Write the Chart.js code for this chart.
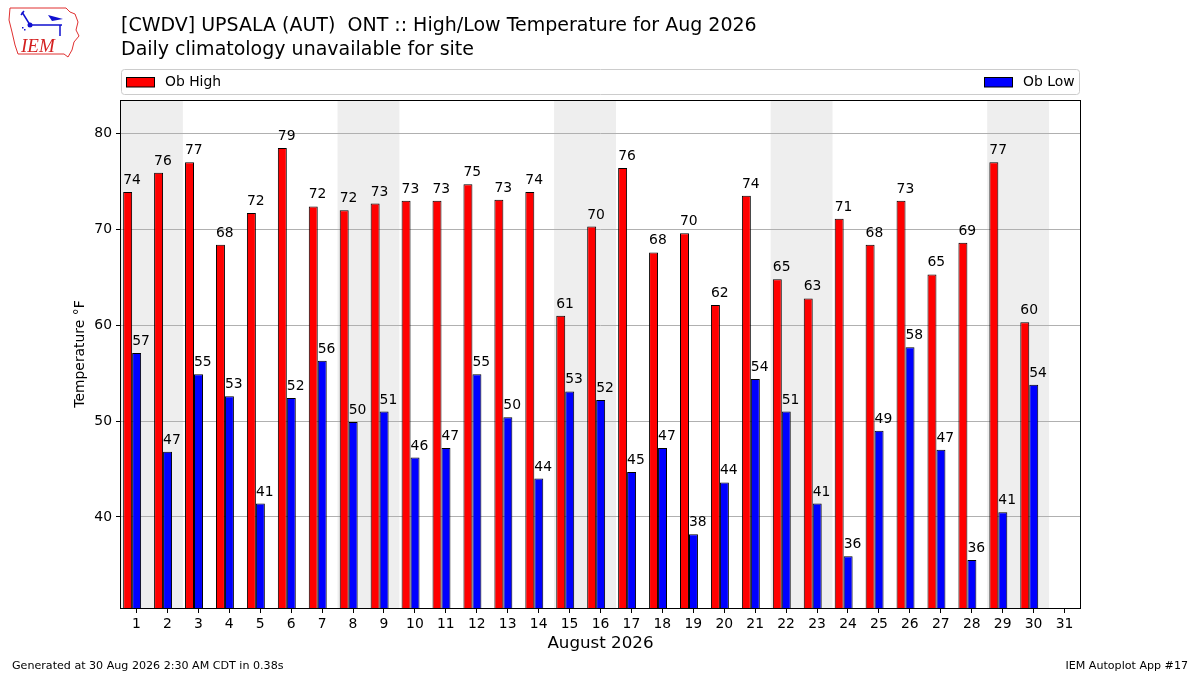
<!DOCTYPE html>
<html>
<head>
<meta charset="utf-8">
<script src="https://cdn.jsdelivr.net/npm/chart.js@4.4.1/dist/chart.umd.min.js"></script>
<style>
  html, body { margin: 0; padding: 0; background: #fff; }
  #wrap { width: 1200px; height: 675px; }
</style>
</head>
<body>
<div id="wrap"><canvas id="myChart" width="1200" height="675"></canvas></div>
<script>
// values, August 2026, day 31 has no data yet
const days = [1,2,3,4,5,6,7,8,9,10,11,12,13,14,15,16,17,18,19,20,21,22,23,24,25,26,27,28,29,30,31]
const obHigh = [73.9,75.9,77.0,68.4,71.7,78.5,72.4,72.0,72.7,73.0,73.0,74.7,73.1,73.9,61.0,70.3,
    76.4,67.6,69.6,62.1,73.5,64.8,62.8,71.1,68.4,73.0,65.3,68.6,77.0,60.3,null]
const obLow = [57.1,46.8,54.9,52.6,41.4,52.4,56.3,49.9,51.0,46.2,47.2,54.9,50.4,44.0,53.1,52.2,
    44.7,47.2,38.2,43.6,54.4,51.0,41.4,35.9,49.0,57.7,47.0,35.5,40.5,53.8,null]
const yTicks = [40,50,60,70,80]

const titleLine1 = '[CWDV] UPSALA (AUT)  ONT :: High/Low Temperature for Aug 2026'
const titleLine2 = 'Daily climatology unavailable for site'
const footLeft = 'Generated at 30 Aug 2026 2:30 AM CDT in 0.38s'
const footRight = 'IEM Autoplot App #17'

const FONT = "'DejaVu Sans', sans-serif"
const pairShift = -0.14 // high/low pair sits a bit left of the day tick

const validHigh = obHigh.filter(v => v !== null)
const validLow = obLow.filter(v => v !== null)
const yMin = Math.min(...validLow) - 5
const yMax = Math.max(...validHigh) + 5

const ctx = document.getElementById('myChart')

const iemPlugin = {
    id: 'iem',
    beforeDraw(chart) {
        const c = chart.ctx
        const area = chart.chartArea
        const x = chart.scales.x
        c.save()
        c.fillStyle = '#fff'
        c.fillRect(0, 0, chart.width, chart.height)
        // weekend shading
        c.beginPath()
        c.rect(area.left, area.top, area.right - area.left, area.bottom - area.top)
        c.clip()
        c.fillStyle = '#eeeeee'
        days.forEach(d => {
            if (new Date(2026, 7, d).getDay() === 6) {
                const x0 = x.getPixelForValue(d - 0.5)
                const x1 = x.getPixelForValue(d + 1.5)
                c.fillRect(x0, area.top, x1 - x0, area.bottom - area.top)
            }
        })
        c.restore()
    },
    afterDatasetsDraw(chart) {
        const c = chart.ctx
        const area = chart.chartArea
        c.save()
        c.font = '13.9px ' + FONT
        c.fillStyle = '#000'
        c.textAlign = 'left'
        c.textBaseline = 'alphabetic'
        chart.data.datasets.forEach((ds, i) => {
            chart.getDatasetMeta(i).data.forEach((bar, j) => {
                const v = ds.data[j].y
                if (v === null) return
                c.fillText(String(Math.round(v)), bar.x - bar.width / 2, bar.y - 8)
            })
        })
        // frame
        c.strokeStyle = '#000'
        c.lineWidth = 1
        c.strokeRect(Math.round(area.left) - 0.5, Math.round(area.top) + 0.5,
            Math.round(area.right - area.left) + 1, Math.round(area.bottom - area.top))
        c.restore()
    },
    afterDraw(chart) {
        const c = chart.ctx
        const area = chart.chartArea
        c.save()
        c.fillStyle = '#000'
        c.textBaseline = 'alphabetic'
        c.textAlign = 'left'
        c.font = '19px ' + FONT
        c.fillText(titleLine1, 121, 31)
        c.fillText(titleLine2, 121, 55)

        // legend box
        c.beginPath()
        c.roundRect(121.5, 69.5, 958, 25, 3)
        c.fillStyle = '#fff'
        c.fill()
        c.strokeStyle = '#cccccc'
        c.stroke()
        c.font = '13.9px ' + FONT
        c.textBaseline = 'middle'
        c.fillStyle = 'red'
        c.fillRect(126.5, 77.5, 28, 9.5)
        c.strokeStyle = '#000'
        c.strokeRect(126.5, 77.5, 28, 9.5)
        c.fillStyle = '#000'
        c.fillText('Ob High', 165, 82)
        c.fillStyle = 'blue'
        c.fillRect(984.5, 77.5, 28, 9.5)
        c.strokeRect(984.5, 77.5, 28, 9.5)
        c.fillStyle = '#000'
        c.fillText('Ob Low', 1023, 82)

        // axis titles
        c.textAlign = 'center'
        c.font = '16.7px ' + FONT
        c.fillText('August 2026', (area.left + area.right) / 2, 644)
        c.save()
        c.translate(80, (area.top + area.bottom) / 2)
        c.rotate(-Math.PI / 2)
        c.font = '13.9px ' + FONT
        c.fillText('Temperature °F', 0, 0)
        c.restore()

        // footer
        c.font = '11.1px ' + FONT
        c.textBaseline = 'alphabetic'
        c.textAlign = 'left'
        c.fillText(footLeft, 12, 669)
        c.textAlign = 'right'
        c.fillText(footRight, 1188, 669)

        // rough IEM logo
        c.strokeStyle = '#e03030'
        c.lineWidth = 1
        c.beginPath()
        c.moveTo(10, 8); c.lineTo(66, 8); c.lineTo(70, 12); c.lineTo(75, 14)
        c.lineTo(78, 22); c.lineTo(76, 30); c.lineTo(79, 36); c.lineTo(74, 42)
        c.lineTo(72, 50); c.lineTo(68, 57); c.lineTo(64, 54); c.lineTo(18, 54)
        c.lineTo(15, 45); c.lineTo(12, 32); c.lineTo(9, 20); c.closePath()
        c.stroke()
        c.fillStyle = '#d42020'
        c.font = 'italic 19px "Liberation Serif", serif'
        c.textAlign = 'left'
        c.fillText('IEM', 21, 52)
        c.strokeStyle = '#1010d0'
        c.fillStyle = '#1010d0'
        c.lineWidth = 1.5
        c.beginPath()
        c.moveTo(22, 12); c.lineTo(30, 25); c.lineTo(62, 25)
        c.moveTo(60, 25); c.lineTo(60, 36)
        c.moveTo(24, 11); c.lineTo(21, 15)
        c.stroke()
        c.beginPath()
        c.arc(30, 25, 2.5, 0, Math.PI * 2)
        c.fill()
        c.beginPath()
        c.moveTo(48, 15); c.lineTo(63, 19); c.lineTo(52, 21); c.closePath()
        c.fill()
        c.fillRect(22, 27, 1.5, 1.5)
        c.fillRect(24, 29, 1.5, 1.5)
        c.restore()
    }
}

const myChart = new Chart(ctx, {
    type: 'bar',
    data: {
        datasets: [{
            label: 'Ob High',
            data: days.map((d, i) => ({x: d + pairShift, y: obHigh[i]})),
            backgroundColor: '#ff0000',
            borderColor: '#000',
            borderWidth: 1,
            borderSkipped: false,
            inflateAmount: 0
        }, {
            label: 'Ob Low',
            data: days.map((d, i) => ({x: d + pairShift, y: obLow[i]})),
            backgroundColor: '#0000ff',
            borderColor: '#000',
            borderWidth: 1,
            borderSkipped: false,
            inflateAmount: 0
        }]
    },
    options: {
        responsive: false,
        animation: false,
        devicePixelRatio: 1,
        categoryPercentage: 0.58,
        barPercentage: 1.0,
        layout: {
            padding: {top: 100, right: 120, left: 0, bottom: 0}
        },
        plugins: {
            legend: {display: false},
            tooltip: {enabled: false}
        },
        scales: {
            x: {
                type: 'linear',
                min: 0.5,
                max: 31.5,
                offset: false,
                afterBuildTicks: axis => { axis.ticks = days.map(d => ({value: d})) },
                afterFit: scale => { scale.height = 67 },
                grid: {
                    offset: false,
                    drawOnChartArea: false,
                    tickLength: 5,
                    tickColor: '#000'
                },
                border: {display: false},
                ticks: {
                    autoSkip: false,
                    maxRotation: 0,
                    padding: 3,
                    color: '#000',
                    font: {family: FONT, size: 13.9},
                    callback: v => String(v)
                }
            },
            y: {
                type: 'linear',
                min: yMin,
                max: yMax,
                beginAtZero: false,
                afterBuildTicks: axis => { axis.ticks = yTicks.map(v => ({value: v})) },
                afterFit: scale => { scale.width = 121 },
                grid: {
                    color: '#b0b0b0',
                    tickLength: 5,
                    tickColor: '#000'
                },
                border: {display: false},
                ticks: {
                    padding: 4,
                    color: '#000',
                    font: {family: FONT, size: 13.9},
                    callback: v => String(v)
                }
            }
        }
    },
    plugins: [iemPlugin]
})
</script>
</body>
</html>
